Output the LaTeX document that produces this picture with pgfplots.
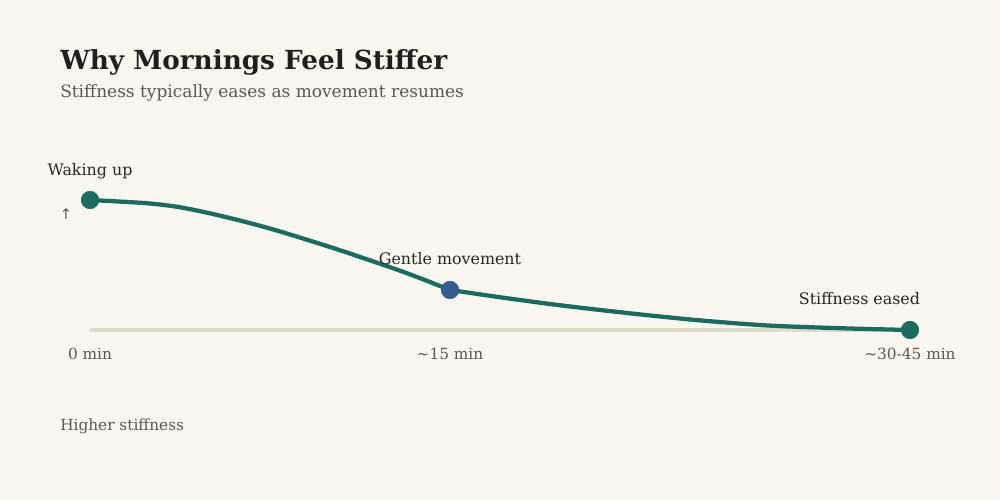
\documentclass[border=0pt]{standalone}
\usepackage{pgfplots}
\pgfplotsset{compat=1.18}
\usepackage{fontspec}
\setmainfont{DejaVu Serif}
\newfontfamily\symfont{DejaVu Sans}
\definecolor{bg}{HTML}{F9F6F0}
\definecolor{tealc}{HTML}{1C6B62}
\definecolor{bluec}{HTML}{355C8C}
\definecolor{basec}{HTML}{E0DBCF}
\definecolor{titlec}{HTML}{221E1A}
\definecolor{subc}{HTML}{5E5750}
\definecolor{labc}{HTML}{2A2622}
\begin{document}
\begin{tikzpicture}
\begin{axis}[
  width=750bp, height=375bp, scale only axis,
  xmin=0, xmax=1000, ymin=-130.77, ymax=253.85,
  hide axis, clip=false,
]
\fill[bg] (rel axis cs:0,0) rectangle (rel axis cs:1,1);
% baseline
\addplot[color=basec, line width=3bp] coordinates {(90,0) (910,0)};
% stiffness curve (x in layout units: 0 min=90, ~15 min=450, ~30-45 min=910)
\addplot[color=tealc, line width=3.2bp, smooth, tension=0.5, line cap=round] coordinates {
 (90,100) (147,97.5) (180,94.4) (213,89.2) (247,82.8) (280,75.8) (337,62.1) (403,44.8) (450,30.8)};
\addplot[color=tealc, line width=3.2bp, smooth, tension=0.5, line cap=round] coordinates {
 (450,30.8) (500,25.2) (550,20) (600,15.4) (650,11.2) (700,7.4) (767,3.5) (843,1.3) (910,0)};
\addplot[only marks, mark=*, mark size=6.6bp, color=tealc] coordinates {(90,100) (910,0)};
\addplot[only marks, mark=*, mark size=6.6bp, color=bluec] coordinates {(450,30.8)};
% texts
\node[anchor=base west, inner sep=0, text=titlec, font=\fontsize{19.7bp}{22bp}\selectfont\bfseries] at (rel axis cs:0.06,0.86) {Why Mornings Feel Stiffer};
\node[anchor=base west, inner sep=0, text=subc, font=\fontsize{12.75bp}{14bp}\selectfont] at (rel axis cs:0.06,0.804) {Stiffness typically eases as movement resumes};
\node[anchor=base, inner sep=0, text=labc, font=\fontsize{11.9bp}{13bp}\selectfont] at (rel axis cs:0.09,0.65) {Waking up};
\node[anchor=center, inner sep=0, text=subc, font=\symfont\fontsize{11bp}{12bp}\selectfont] at (rel axis cs:0.066,0.572) {↑};
\node[anchor=base, inner sep=0, text=labc, font=\fontsize{11.9bp}{13bp}\selectfont] at (rel axis cs:0.45,0.47) {Gentle movement};
\node[anchor=base, inner sep=0, text=labc, font=\fontsize{11.9bp}{13bp}\selectfont] at (rel axis cs:0.8595,0.39) {Stiffness eased};
\node[anchor=base, inner sep=0, text=subc, font=\fontsize{11.5bp}{12bp}\selectfont] at (rel axis cs:0.09,0.282) {0 min};
\node[anchor=base, inner sep=0, text=subc, font=\fontsize{11.5bp}{12bp}\selectfont] at (rel axis cs:0.45,0.282) {\textasciitilde15 min};
\node[anchor=base, inner sep=0, text=subc, font=\fontsize{11.5bp}{12bp}\selectfont] at (rel axis cs:0.91,0.282) {\textasciitilde30-45 min};
\node[anchor=base west, inner sep=0, text=subc, font=\fontsize{11.5bp}{12bp}\selectfont] at (rel axis cs:0.06,0.14) {Higher stiffness};
\end{axis}
\end{tikzpicture}
\end{document}
